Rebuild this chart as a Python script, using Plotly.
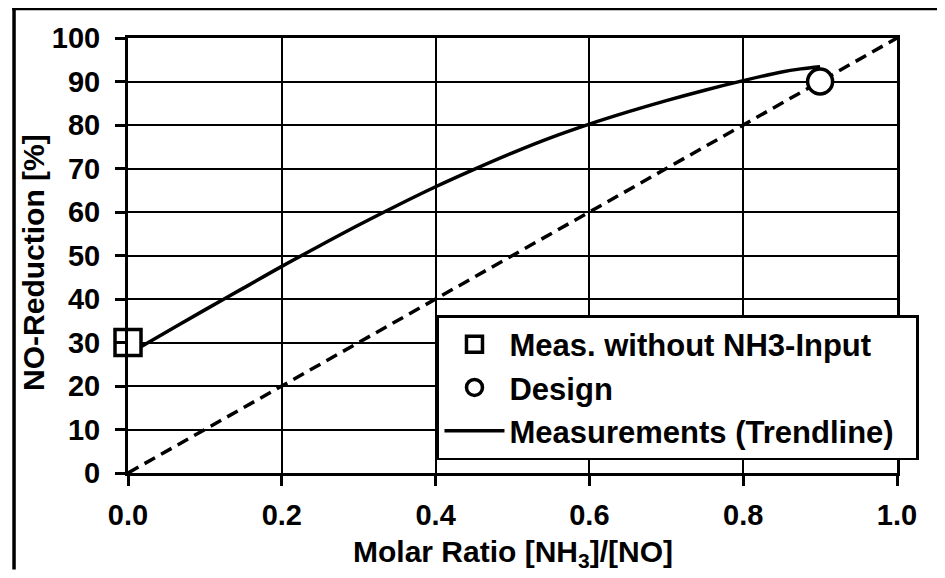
import plotly.graph_objects as go

# Data
trend_x = [0.0, 0.05, 0.1, 0.15, 0.2, 0.25, 0.3, 0.35, 0.4, 0.45, 0.5, 0.55, 0.6, 0.65, 0.7, 0.75, 0.8, 0.85, 0.875, 0.9]
trend_y = [27.3, 32.4, 37.5, 42.5, 47.5, 52.3, 57.0, 61.5, 65.8, 69.8, 73.6, 77.1, 80.2, 83.0, 85.6, 88.0, 90.2, 92.2, 92.9, 93.4]
diag_x = [0.0, 1.0]
diag_y = [0.0, 100.0]
meas_x = [0.0]
meas_y = [30.0]
design_x = [0.9]
design_y = [90.0]
x_ticks = [0.0, 0.2, 0.4, 0.6, 0.8, 1.0]
y_ticks = [0, 10, 20, 30, 40, 50, 60, 70, 80, 90, 100]

FONT = "Liberation Sans, Arial, sans-serif"

fig = go.Figure()
fig.add_trace(go.Scatter(x=diag_x, y=diag_y, mode="lines", showlegend=False,
                         line=dict(color="black", width=3.5, dash="12px,7px")))
fig.add_trace(go.Scatter(x=trend_x, y=trend_y, mode="lines",
                         name="Measurements (Trendline)\u00a0\u00a0",
                         legendrank=3, line=dict(color="black", width=3.5, shape="spline")))
fig.add_trace(go.Scatter(x=meas_x, y=meas_y, mode="markers", name="Meas. without NH3-Input",
                         legendrank=1, cliponaxis=False,
                         marker=dict(symbol="square", size=26, color="white",
                                     line=dict(color="black", width=3.5))))
fig.add_trace(go.Scatter(x=design_x, y=design_y, mode="markers", name="Design",
                         legendrank=2, cliponaxis=False,
                         marker=dict(symbol="circle", size=25, color="white",
                                     line=dict(color="black", width=3.5))))

# The page body has an 8px margin on every side, so the figure is sized to fit
# the 945x578 window without scrollbars.
fig.update_layout(
    width=937, height=562,
    margin=dict(l=120, r=48, t=30, b=97),
    paper_bgcolor="white", plot_bgcolor="white",
    font=dict(family=FONT, size=28, color="black", weight="bold"),
    legend=dict(x=0.4018, y=0.3632, xanchor="left", yanchor="top",
                bgcolor="white", bordercolor="black", borderwidth=2.5,
                font=dict(family=FONT, size=31, color="black", weight="bold"),
                itemwidth=60, tracegroupgap=0),
    xaxis=dict(range=[0, 1], tickvals=x_ticks, tickformat=".1f", automargin=False,
               showgrid=True, gridcolor="black", gridwidth=2,
               showline=True, linecolor="black", linewidth=3, mirror=True,
               ticks="outside", ticklen=10, tickwidth=3, tickcolor="black",
               ticklabelstandoff=4, zeroline=False,
               tickfont=dict(family=FONT, size=29, color="black", weight="bold")),
    yaxis=dict(range=[0, 100], tickvals=y_ticks, automargin=False,
               showgrid=True, gridcolor="black", gridwidth=2,
               showline=True, linecolor="black", linewidth=3, mirror=True,
               ticks="outside", ticklen=10, tickwidth=3, tickcolor="black",
               ticklabelstandoff=9, zeroline=False,
               tickfont=dict(family=FONT, size=29, color="black", weight="bold")),
    annotations=[dict(text="NO-Reduction [%]", xref="paper", yref="paper",
                      x=-0.1222, y=0.483, xanchor="center", yanchor="middle",
                      textangle=-90, showarrow=False,
                      font=dict(family=FONT, size=30, color="black", weight="bold")),
                 dict(text="Molar Ratio [NH<sub>3</sub>]/[NO]", xref="paper", yref="paper",
                      x=0.5, y=-0.184, xanchor="center", yanchor="middle",
                      showarrow=False,
                      font=dict(family=FONT, size=30, color="black", weight="bold"))],
    # outer frame: only its top and left edges fall inside the picture
    shapes=[dict(type="line", xref="paper", yref="paper",
                 x0=-0.1505, x1=1.062, y0=1.0678, y1=1.0678,
                 line=dict(color="black", width=3.5)),
            dict(type="line", xref="paper", yref="paper",
                 x0=-0.1482, x1=-0.1482, y0=1.071, y1=-0.222,
                 line=dict(color="black", width=3.5))],
)

fig.write_html("out.html")
